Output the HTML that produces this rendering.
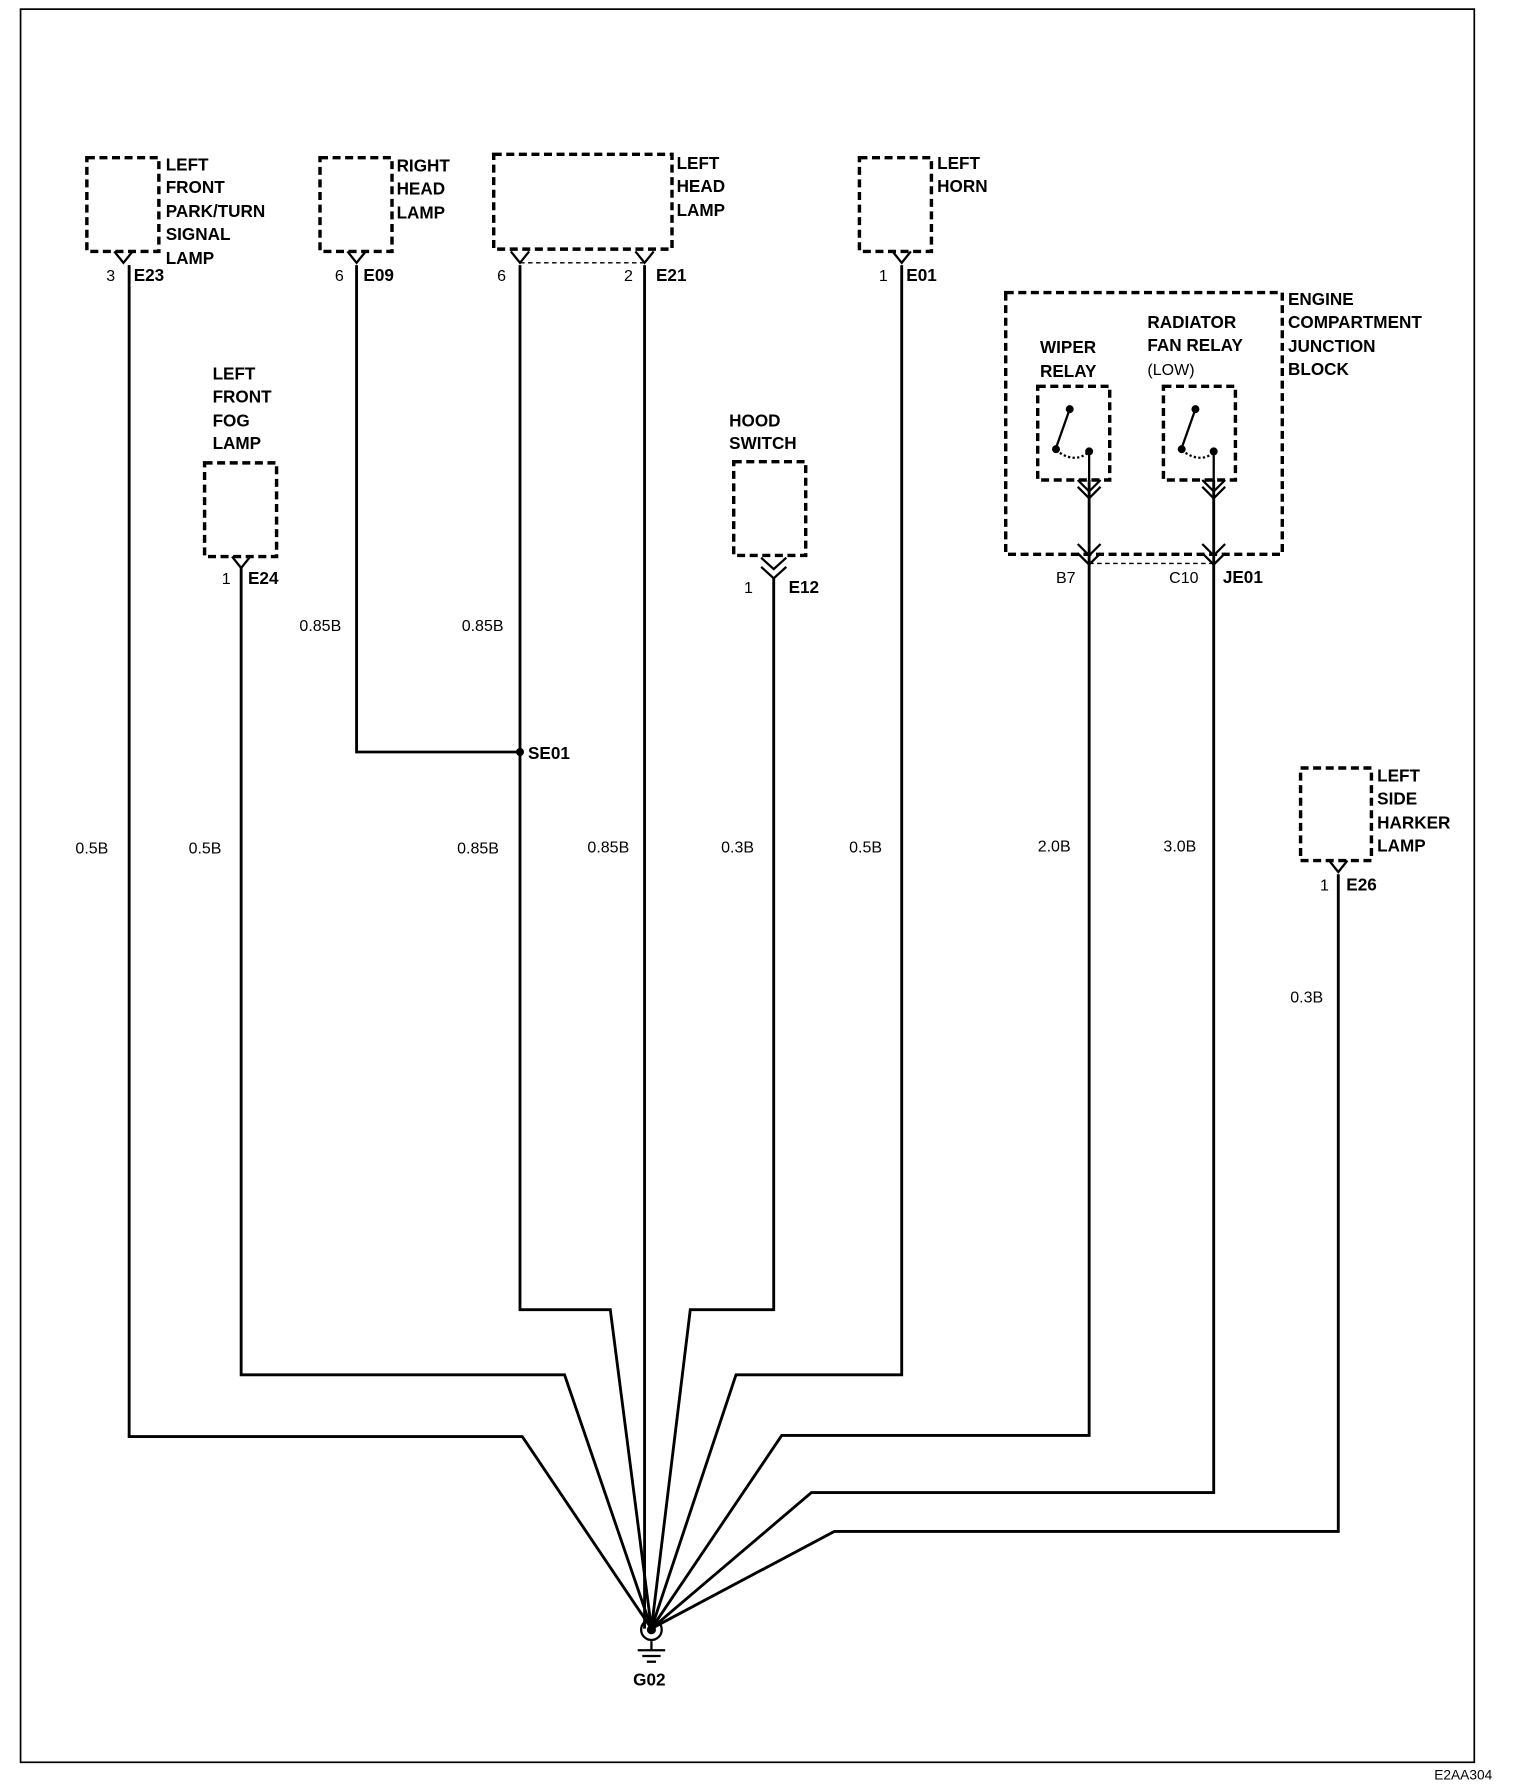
<!DOCTYPE html>
<html><head><meta charset="utf-8"><style>html,body{margin:0;padding:0;background:#fff}svg{display:block}</style></head><body>
<svg width="1520" height="1784" viewBox="0 0 1330 1561" preserveAspectRatio="none" xmlns="http://www.w3.org/2000/svg" font-family="Liberation Sans, Arial, sans-serif">
<rect x="18" y="8" width="1272" height="1534" fill="none" stroke="#000" stroke-width="1.5"/>
<text x="1255" y="1557" font-size="12">E2AA304</text>
<g fill="none" stroke="#000" stroke-width="3" stroke-dasharray="7,4">
<rect x="76" y="138" width="63" height="82"/>
<rect x="280" y="138" width="63" height="82"/>
<rect x="432" y="135" width="156" height="83"/>
<rect x="752" y="138" width="63" height="82"/>
<rect x="179" y="405" width="63" height="82"/>
<rect x="642" y="404" width="63" height="82"/>
<rect x="880" y="256" width="242" height="229"/>
<rect x="908" y="338" width="63" height="82"/>
<rect x="1018" y="338" width="63" height="82"/>
<rect x="1138" y="672" width="62" height="81"/>
</g>
<g fill="none" stroke="#000" stroke-width="1.2" stroke-dasharray="4,3">
<line x1="455" y1="230" x2="564" y2="230"/>
<line x1="953" y1="493" x2="1062" y2="493"/>
</g>
<g fill="none" stroke="#000" stroke-width="2.5">
<polyline points="113,232 113,1257 457,1257 570,1425"/>
<polyline points="211,497 211,1203 494,1203 570,1425"/>
<polyline points="312,232 312,658 455,658"/>
<polyline points="455,232 455,1146 534,1146 570,1425"/>
<polyline points="564,232 564,1425"/>
<polyline points="677,505 677,1146 604,1146 570,1425"/>
<polyline points="789,232 789,1203 644,1203 570,1425"/>
<polyline points="953,420 953,1256 684,1256 570,1425"/>
<polyline points="1062,420 1062,1306 710,1306 570,1425"/>
<polyline points="1171,765 1171,1340 730,1340 570,1425"/>
</g>
<g fill="none" stroke="#000" stroke-width="2">
<polyline points="100,220 108,230 116,220"/>
<polyline points="304,220 312,230 320,220"/>
<polyline points="447,220 455,230 463,220"/>
<polyline points="556,220 564,230 572,220"/>
<polyline points="781,220 789,230 797,220"/>
<polyline points="203,487 211,497 219,487"/>
<polyline points="666,488 677,498 688,488"/><polyline points="666,496 677,506 688,496"/>
<polyline points="943,420 953,430 963,420"/><polyline points="943,426 953,436 963,426"/>
<polyline points="1052,420 1062,430 1072,420"/><polyline points="1052,426 1062,436 1072,426"/>
<polyline points="943,476 953,486 963,476"/><polyline points="943,484 953,494 963,484"/>
<polyline points="1052,476 1062,486 1072,476"/><polyline points="1052,484 1062,494 1072,484"/>
<polyline points="1163,753 1171,763 1179,753"/>
<line x1="936" y1="358" x2="924" y2="392"/><line x1="1046" y1="358" x2="1034" y2="392"/>
<path d="M924 394 Q940 406 952 396" stroke-dasharray="2,2"/>
<path d="M1034 394 Q1050 406 1062 396" stroke-dasharray="2,2"/>
<line x1="953" y1="396" x2="953" y2="420"/><line x1="1062" y1="396" x2="1062" y2="420"/>
<circle cx="570" cy="1426" r="9"/>
<line x1="570" y1="1436" x2="570" y2="1444"/>
<line x1="558" y1="1444" x2="582" y2="1444"/><line x1="562" y1="1449" x2="578" y2="1449"/><line x1="566" y1="1454" x2="574" y2="1454"/>
</g>
<g fill="#000">
<circle cx="455" cy="658" r="3.5"/><circle cx="570" cy="1426" r="4"/>
<circle cx="936" cy="358" r="3.5"/><circle cx="924" cy="393" r="3.5"/><circle cx="953" cy="395" r="3.5"/>
<circle cx="1046" cy="358" r="3.5"/><circle cx="1034" cy="393" r="3.5"/><circle cx="1062" cy="395" r="3.5"/>
</g>
<g font-size="15" font-weight="bold">
<text x="145" y="149">LEFT</text><text x="145" y="169">FRONT</text><text x="145" y="190">PARK/TURN</text><text x="145" y="210">SIGNAL</text><text x="145" y="231">LAMP</text>
<text x="347" y="150">RIGHT</text><text x="347" y="170">HEAD</text><text x="347" y="191">LAMP</text>
<text x="592" y="148">LEFT</text><text x="592" y="168">HEAD</text><text x="592" y="189">LAMP</text>
<text x="820" y="148">LEFT</text><text x="820" y="168">HORN</text>
<text x="186" y="332">LEFT</text><text x="186" y="352">FRONT</text><text x="186" y="373">FOG</text><text x="186" y="393">LAMP</text>
<text x="638" y="373">HOOD</text><text x="638" y="393">SWITCH</text>
<text x="1127" y="267">ENGINE</text><text x="1127" y="287">COMPARTMENT</text><text x="1127" y="308">JUNCTION</text><text x="1127" y="328">BLOCK</text>
<text x="1004" y="287">RADIATOR</text><text x="1004" y="307">FAN RELAY</text>
<text x="910" y="309">WIPER</text><text x="910" y="330">RELAY</text>
<text x="1205" y="684">LEFT</text><text x="1205" y="704">SIDE</text><text x="1205" y="725">HARKER</text><text x="1205" y="745">LAMP</text>
<text x="117" y="246">E23</text><text x="318" y="246">E09</text><text x="574" y="246">E21</text><text x="793" y="246">E01</text>
<text x="217" y="511">E24</text><text x="690" y="519">E12</text><text x="1070" y="510">JE01</text><text x="1178" y="779">E26</text>
<text x="462" y="664">SE01</text><text x="554" y="1475">G02</text>
</g>
<g font-size="14">
<text x="1004" y="328">(LOW)</text>
<text x="93" y="246">3</text><text x="293" y="246">6</text><text x="435" y="246">6</text><text x="546" y="246">2</text><text x="769" y="246">1</text>
<text x="194" y="511">1</text><text x="651" y="519">1</text><text x="924" y="510">B7</text><text x="1023" y="510">C10</text><text x="1155" y="779">1</text>
<text x="262" y="552">0.85B</text><text x="404" y="552">0.85B</text>
<text x="66" y="747">0.5B</text><text x="165" y="747">0.5B</text><text x="400" y="747">0.85B</text><text x="514" y="746">0.85B</text>
<text x="631" y="746">0.3B</text><text x="743" y="746">0.5B</text><text x="908" y="745">2.0B</text><text x="1018" y="745">3.0B</text><text x="1129" y="877">0.3B</text>
</g>
</svg>
</body></html>
